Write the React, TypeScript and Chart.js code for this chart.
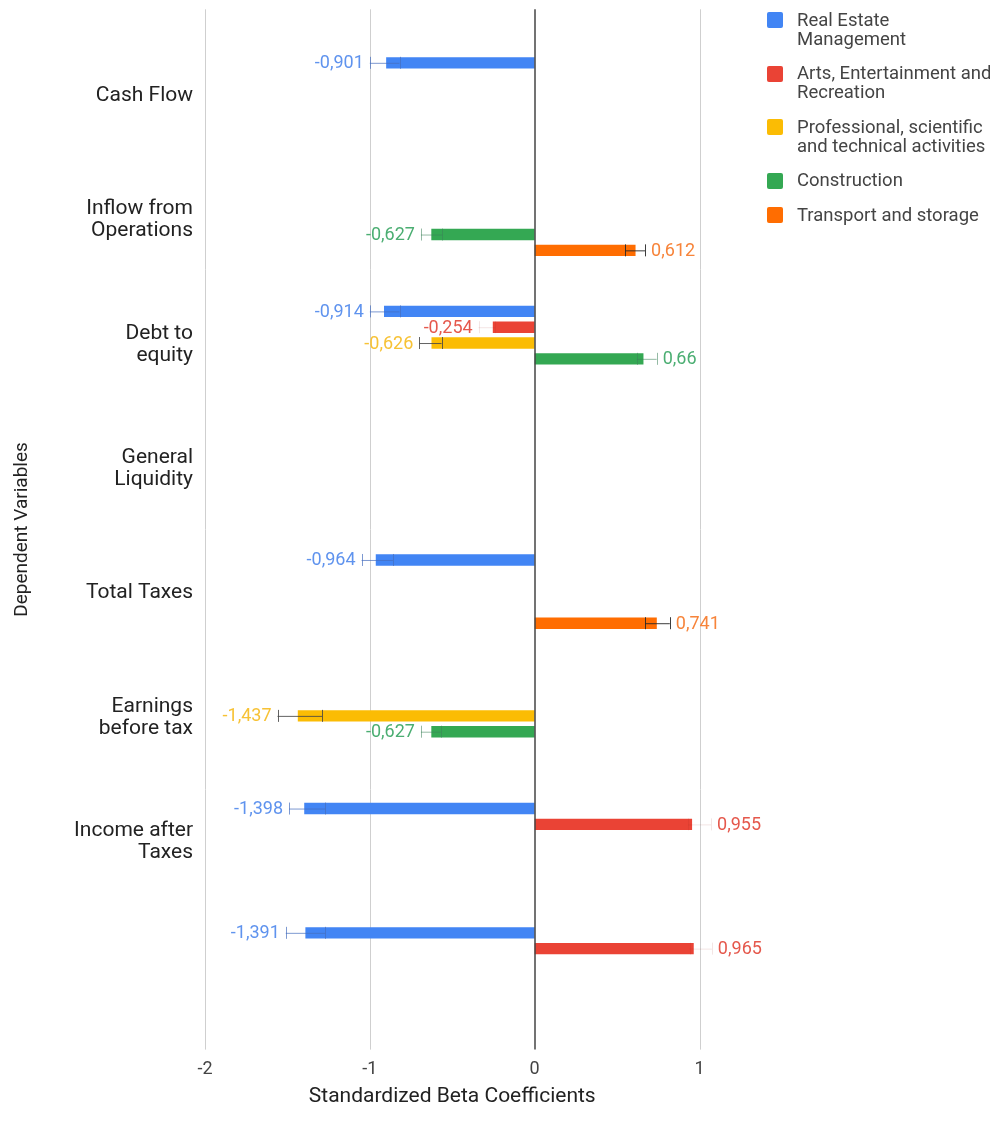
import React, { useEffect, useRef } from "react";
import { Chart, registerables } from "chart.js";

Chart.register(...registerables);

// Dependent variables (one group of bars per row); the last row has no caption
const categories: (string | string[])[] = [
  "Cash Flow",
  ["Inflow from", "Operations"],
  ["Debt to", "equity"],
  ["General", "Liquidity"],
  "Total Taxes",
  ["Earnings", "before tax"],
  ["Income after", "Taxes"],
  "",
];

const seriesNames = [
  "Real Estate\nManagement",
  "Arts, Entertainment and\nRecreation",
  "Professional, scientific\nand technical activities",
  "Construction",
  "Transport and storage",
];

const seriesColors = ["#4285F4", "#EA4335", "#FBBC04", "#34A853", "#FF6D01"];
const labelColors = ["#5f93ee", "#e5584c", "#f7c235", "#4bae72", "#f7843a"];
const whiskerColors = [
  "rgba(70,110,190,0.7)",
  "rgba(160,40,30,0.12)",
  "rgba(70,70,70,0.85)",
  "rgba(60,130,90,0.55)",
  "rgba(40,40,40,0.9)",
];

// Standardized beta coefficients with their interval bounds
const realEstate = [-0.901, null, -0.914, null, -0.964, null, -1.398, -1.391];
const realEstateLow = [-1.0, null, -1.0, null, -1.05, null, -1.49, -1.51];
const realEstateHigh = [-0.82, null, -0.82, null, -0.86, null, -1.27, -1.27];

const arts = [null, null, -0.254, null, null, null, 0.955, 0.965];
const artsLow = [null, null, -0.34, null, null, null, 0.93, 0.94];
const artsHigh = [null, null, -0.24, null, null, null, 1.07, 1.075];

const professional = [null, null, -0.626, null, null, -1.437, null, null];
const professionalLow = [null, null, -0.7, null, null, -1.56, null, null];
const professionalHigh = [null, null, -0.565, null, null, -1.29, null, null];

const construction = [null, -0.627, 0.66, null, null, -0.627, null, null];
const constructionLow = [null, -0.69, 0.62, null, null, -0.69, null, null];
const constructionHigh = [null, -0.56, 0.74, null, null, -0.57, null, null];

const transport = [null, 0.612, null, null, 0.741, null, null, null];
const transportLow = [null, 0.55, null, null, 0.67, null, null, null];
const transportHigh = [null, 0.67, null, null, 0.82, null, null, null];

const xTicks = [-2, -1, 0, 1];

const seriesValues = [realEstate, arts, professional, construction, transport];
const seriesLows = [realEstateLow, artsLow, professionalLow, constructionLow, transportLow];
const seriesHighs = [realEstateHigh, artsHigh, professionalHigh, constructionHigh, transportHigh];

const FONT = "Roboto, 'Noto Sans', Arial, sans-serif";
const GRID_OVERHANG = 23;
const LABEL_GAP = 6;

const formatValue = (v: number) => String(v).replace(".", ",");

// Vertical grid lines that run a little past the bar area, plus the zero baseline
const gridPlugin = {
  id: "extendedGrid",
  beforeDatasetsDraw(chart: any) {
    const { ctx, chartArea, scales } = chart;
    ctx.save();
    ctx.strokeStyle = "#cfcfcf";
    ctx.lineWidth = 1;
    for (const v of xTicks) {
      if (v === 0) continue;
      const px = Math.round(scales.x.getPixelForValue(v)) + 0.5;
      ctx.beginPath();
      ctx.moveTo(px, chartArea.top - GRID_OVERHANG);
      ctx.lineTo(px, chartArea.bottom + GRID_OVERHANG);
      ctx.stroke();
    }
    ctx.restore();
  },
  afterDatasetsDraw(chart: any) {
    const { ctx, chartArea, scales } = chart;
    const px = Math.round(scales.x.getPixelForValue(0));
    ctx.save();
    ctx.strokeStyle = "#444444";
    ctx.lineWidth = 1.5;
    ctx.beginPath();
    ctx.moveTo(px, chartArea.top - GRID_OVERHANG);
    ctx.lineTo(px, chartArea.bottom + GRID_OVERHANG);
    ctx.stroke();
    ctx.restore();
  },
};

// Interval whiskers and value labels next to each bar
const intervalPlugin = {
  id: "intervalsAndLabels",
  afterDatasetsDraw(chart: any) {
    const { ctx } = chart;
    const xs = chart.scales.x;
    ctx.save();
    chart.data.datasets.forEach((ds: any, i: number) => {
      const meta = chart.getDatasetMeta(i);
      ds.data.forEach((v: number | null, j: number) => {
        if (v == null) return;
        const bar = meta.data[j];
        const y = bar.y;
        const lo = seriesLows[i][j];
        const hi = seriesHighs[i][j];
        if (lo != null && hi != null) {
          const x1 = xs.getPixelForValue(lo);
          const x2 = xs.getPixelForValue(hi);
          ctx.strokeStyle = whiskerColors[i];
          ctx.lineWidth = 1;
          ctx.beginPath();
          ctx.moveTo(x1, y + 0.5);
          ctx.lineTo(x2, y + 0.5);
          ctx.moveTo(Math.round(x1) + 0.5, y - 6);
          ctx.lineTo(Math.round(x1) + 0.5, y + 6);
          ctx.moveTo(Math.round(x2) + 0.5, y - 6);
          ctx.lineTo(Math.round(x2) + 0.5, y + 6);
          ctx.stroke();
        }
        const neg = v < 0;
        const edge = neg ? Math.min(v, lo ?? v) : Math.max(v, hi ?? v);
        const px = xs.getPixelForValue(edge) + (neg ? -LABEL_GAP : LABEL_GAP);
        ctx.fillStyle = labelColors[i];
        ctx.font = `18px ${FONT}`;
        ctx.textAlign = neg ? "right" : "left";
        ctx.textBaseline = "middle";
        ctx.fillText(formatValue(v), px, y + 1);
      });
    });
    ctx.restore();
  },
};

export default function App() {
  const canvasRef = useRef<HTMLCanvasElement | null>(null);

  useEffect(() => {
    if (!canvasRef.current) return;
    Chart.defaults.font.family = FONT;
    const chart = new Chart(canvasRef.current, {
      type: "bar",
      data: {
        labels: categories,
        datasets: seriesValues.map((d, i) => ({
          label: seriesNames[i].replace("\n", " "),
          data: d,
          backgroundColor: seriesColors[i],
          categoryPercentage: 0.636,
          barPercentage: 0.72,
        })),
      },
      options: {
        indexAxis: "y",
        responsive: false,
        animation: false,
        layout: { padding: { top: 24.3, right: 290.5, bottom: 0, left: 0 } },
        plugins: {
          legend: { display: false },
          tooltip: { enabled: false },
        },
        scales: {
          x: {
            type: "linear",
            min: -2,
            max: 1,
            afterBuildTicks: (scale: any) => {
              scale.ticks = xTicks.map((v) => ({ value: v }));
            },
            afterFit: (scale: any) => {
              scale.height = 97.4;
            },
            grid: { display: false, drawTicks: false },
            border: { display: false },
            ticks: { padding: 31.6, color: "#444", font: { size: 18 } },
            title: {
              display: true,
              text: "Standardized Beta Coefficients",
              color: "#222",
              font: { size: 21 },
              padding: { top: 0, bottom: 14.4 },
            },
          },
          y: {
            afterFit: (scale: any) => {
              scale.width = 197;
            },
            grid: { display: false, drawTicks: false },
            border: { display: false },
            ticks: {
              padding: 12,
              labelOffset: 1.5,
              color: "#222",
              autoSkip: false,
              font: { size: 21, lineHeight: "22px" },
            },
            title: {
              display: true,
              text: "Dependent Variables",
              color: "#222",
              font: { size: 19 },
              padding: { top: 3, bottom: 0 },
            },
          },
        },
      } as any,
      plugins: [gridPlugin, intervalPlugin],
    });
    return () => chart.destroy();
  }, []);

  return (
    <div style={{ position: "relative", width: 990, height: 1116 }}>
      <canvas ref={canvasRef} width={982} height={1116} style={{ display: "block" }} />
      <div
        style={{
          position: "absolute",
          left: 759,
          top: 2.5,
          display: "flex",
          flexDirection: "column",
          gap: 15.5,
          fontFamily: FONT,
          fontSize: 18.5,
          lineHeight: "19px",
          color: "#444",
          whiteSpace: "pre",
        }}
      >
        {seriesNames.map((name, i) => (
          <div key={i} style={{ display: "flex", alignItems: "flex-start" }}>
            <span
              style={{
                width: 16,
                height: 16,
                background: seriesColors[i],
                borderRadius: 2,
                marginTop: 1.5,
                marginRight: 14,
                flex: "none",
              }}
            />
            <span style={{ whiteSpace: "pre", flex: "none" }}>{name}</span>
          </div>
        ))}
      </div>
    </div>
  );
}
